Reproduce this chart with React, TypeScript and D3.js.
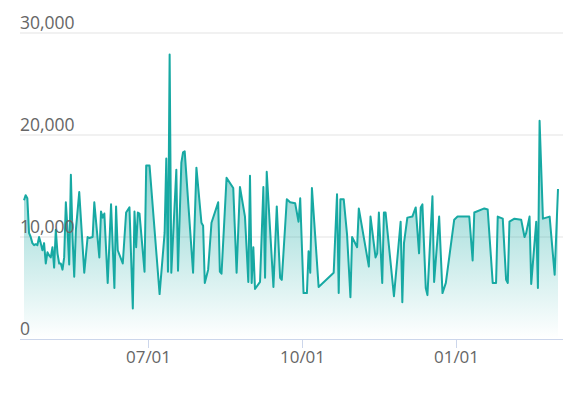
import React from "react";
import * as d3 from "d3";

// Day offsets from the base date (2018-07-01) and the value on that day
const baseDate = "2018-07-01";
const dayOffsets = [
  -74, -73, -72, -71, -70, -69, -68, -67, -66, -65, -64, -63, -62, -61, -60, -59,
  -58, -57, -56, -55, -54, -53, -52, -51, -50, -49, -48, -47, -46, -45, -44,
  -43, -41, -38, -36, -35, -33, -32, -29, -28, -27, -26, -24, -22, -20, -19, -18,
  -15, -13, -11, -9, -8, -7, -6, -5, -2, -1, 1, 7, 10, 11, 12, 13, 14, 17, 18,
  20, 21, 22, 27, 29, 32, 33, 34, 36, 38, 42, 43, 44, 47, 51, 53, 55, 58, 60,
  61, 62, 63, 64, 67, 69, 70, 71, 75, 77, 79, 80, 83, 85, 88, 90, 91, 93, 95,
  96, 97, 98, 100, 102, 111, 113, 114, 115, 117, 119, 121, 122, 125, 126, 132,
  133, 136, 137, 138, 140, 141, 142, 147, 151, 152, 153, 155, 158, 160, 162,
  163, 164, 166, 167, 170, 171, 174, 176, 178, 183, 185, 192, 194, 195, 201,
  203, 206, 208, 209, 212, 214, 215, 216, 219, 223, 225, 226, 228, 229, 232,
  233, 234, 236, 240, 243, 245,
];
const values = [
  13600, 14100, 13800, 10400, 10000, 9400, 9200, 9300, 9200, 10000, 9400, 8700,
  9400, 7400, 8500, 8200, 8000, 9000, 7000, 10700, 8400, 7400, 7400, 6800, 8000,
  13400, 10700, 7300, 16100, 10000, 6100, 10700, 14400, 6500, 10000, 9900,
  10000, 13400, 8000, 12500, 11900, 12300, 5500, 13200, 5000, 13000, 8700,
  7400, 12400, 12900, 3000, 12500, 9000, 12400, 12300, 6600, 17000, 17000,
  4400, 10400, 17700, 6600, 27900, 6500, 16600, 6700, 17300, 18300, 18400,
  6500, 16800, 11400, 11100, 5500, 6800, 11400, 13400, 6600, 6400, 15800,
  14800, 6500, 14900, 12000, 5600, 16000, 5500, 9000, 4900, 5600, 14900, 6000,
  16400, 5100, 13000, 6000, 5800, 13700, 13400, 13300, 11500, 13800, 4500,
  4500, 8600, 6500, 14800, 10000, 5100, 6500, 14200, 4500, 13700, 13700,
  10200, 4100, 10000, 9000, 12800, 7100, 12000, 8000, 8400, 12400, 5500,
  12400, 12400, 4200, 11500, 3600, 9400, 11900, 12000, 12900, 8400, 12900,
  13200, 5000, 4300, 14000, 5600, 12000, 4500, 5500, 11700, 12000, 12000,
  7700, 12400, 12800, 12700, 5500, 5500, 12000, 11800, 5800, 5500, 11500,
  11800, 11700, 10000, 10400, 12000, 5400, 11500, 5000, 21400, 11800, 12000,
  6300, 14700,
];
const yTicks = [0, 10000, 20000, 30000];
const xTickDates = ["2018-07-01", "2018-10-01", "2019-01-01"];

const W = 577;
const H = 396;

export default function App() {
  const base = d3.timeParse("%Y-%m-%d")(baseDate) as Date;
  const data = dayOffsets.map((d, i) => ({
    date: d3.timeDay.offset(base, d),
    value: values[i],
  }));

  const left = 20;
  const right = 563;
  const x = d3
    .scaleTime()
    .domain(d3.extent(data, (d) => d.date) as [Date, Date])
    .range([24, 558]);
  const y = d3.scaleLinear().domain([0, 30000]).range([339, 33]);

  const line = d3
    .line<{ date: Date; value: number }>()
    .x((d) => x(d.date))
    .y((d) => y(d.value));
  const area = d3
    .area<{ date: Date; value: number }>()
    .x((d) => x(d.date))
    .y0(y(0))
    .y1((d) => y(d.value));

  const maxV = d3.max(values) as number;
  const fmt = d3.format(",");
  const tickFmt = d3.timeFormat("%m/%d");
  const parse = d3.timeParse("%Y-%m-%d");
  const color = "#17a9a3";

  return (
    <svg
      width={W}
      height={H}
      style={{ position: "absolute", left: 0, top: 0, background: "#fff" }}
      fontFamily="'Open Sans', sans-serif"
    >
      <defs>
        <linearGradient
          id="areaGrad"
          gradientUnits="userSpaceOnUse"
          x1={0}
          x2={0}
          y1={y(maxV)}
          y2={y(0)}
        >
          <stop offset="0" stopColor={color} stopOpacity={0.8} />
          <stop offset="1" stopColor={color} stopOpacity={0} />
        </linearGradient>
      </defs>
      {yTicks
        .filter((t) => t > 0)
        .map((t) => (
          <line
            key={t}
            x1={left}
            x2={right}
            y1={y(t)}
            y2={y(t)}
            stroke="#e3e3e3"
            strokeWidth={1}
          />
        ))}
      <path d={area(data) as string} fill="url(#areaGrad)" />
      <path
        d={line(data) as string}
        fill="none"
        stroke={color}
        strokeWidth={2}
        strokeLinejoin="round"
      />
      <line
        x1={left}
        x2={right}
        y1={y(0) + 0.5}
        y2={y(0) + 0.5}
        stroke="#ccd6eb"
        strokeWidth={1}
      />
      {xTickDates.map((s) => {
        const d = parse(s) as Date;
        const px = Math.round(x(d)) + 0.5;
        return (
          <g key={s}>
            <line
              x1={px}
              x2={px}
              y1={y(0)}
              y2={y(0) + 9}
              stroke="#ccd6eb"
              strokeWidth={1}
            />
            <text
              x={px}
              y={y(0) + 24}
              textAnchor="middle"
              fontSize={17}
              fill="#666666"
            >
              {tickFmt(d)}
            </text>
          </g>
        );
      })}
      {yTicks.map((t) => (
        <text
          key={t}
          x={left}
          y={y(t) - 4}
          fontSize={17.5}
          fill="#666666"
        >
          {fmt(t)}
        </text>
      ))}
    </svg>
  );
}
